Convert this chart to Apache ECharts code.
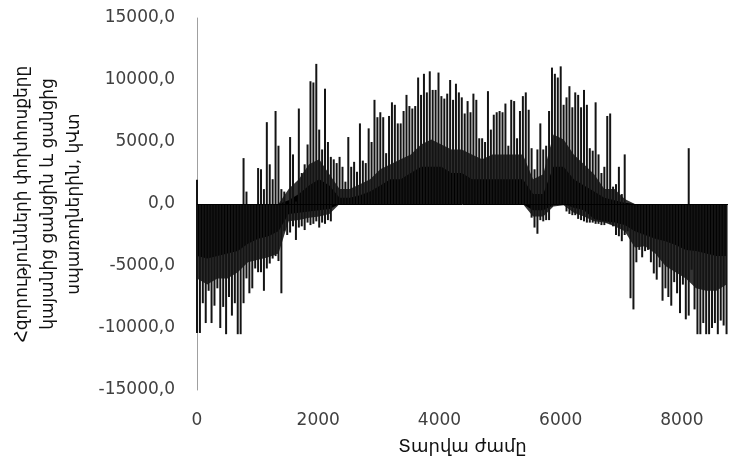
<!DOCTYPE html>
<html><head><meta charset="utf-8">
<script src="https://cdn.jsdelivr.net/npm/echarts/dist/echarts.min.js"></script>
</head><body style="margin:0;background:#fff">
<div id="c" style="width:739px;height:468px"></div>
<script>
// Hour step of the sampled peak values and of the dense-core envelopes
const peakStepHours = 48;
const coreStepHours = 168;

// Highest value in each 48-hour window (kW)
const peakMax = [
  1960,0,0,0,0,0,0,0,0,0,
  0,0,0,0,0,0,3700,1000,0,0,
  0,2900,2800,1200,6600,3200,2000,7500,4700,1200,
  1000,0,5400,4000,200,7700,2500,3200,4800,9900,
  9800,11300,6000,4400,9300,5000,3800,3600,3300,3800,
  3000,1800,5400,3000,3400,2600,6500,3500,3300,6100,
  5000,8400,7000,7400,7000,4100,7100,8200,8000,6500,
  6500,7500,8800,7900,7700,7900,10200,8800,10500,9000,
  10700,9200,9200,10600,8700,8500,8900,10000,8400,9700,
  9000,8600,7300,8300,7400,8900,8400,5300,5300,5000,
  9100,6000,7200,7400,7500,7400,8100,4700,8400,8300,
  5300,7500,8700,9000,7600,4500,2800,4400,6500,4400,
  4700,7500,11000,10500,10200,11100,8000,8600,9500,7800,
  9000,8800,7800,9200,8000,4500,4300,8200,4000,2500,
  3000,7100,7300,1400,1600,3000,800,4000,0,0,
  0,0,0,0,0,0,0,0,0,0,
  0,0,0,0,0,0,0,0,0,4500,
  0,0,0,0,0,0,0,0,0,0,
  0,0,0
];

// Lowest value in each 48-hour window (kW)
const peakMin = [
  -10400,-10400,-8000,-9600,-7000,-9600,-8200,-6800,-10000,-8300,
  -10500,-7500,-9000,-8000,-10500,-10500,-8000,-6000,-7200,-6800,
  -5200,-5500,-5500,-7000,-5200,-4800,-4400,-4200,-4600,-7200,
  -2200,-2500,-2300,-1800,-2900,-1900,-1800,-2100,-1500,-1700,
  -1600,-1400,-1900,-1500,-1600,-1300,-1400,0,0,0,
  0,0,0,0,0,0,0,0,0,0,
  0,0,0,0,0,0,0,0,0,0,
  0,0,0,0,0,0,0,0,0,0,
  0,0,0,0,0,0,0,0,0,0,
  0,0,0,0,0,0,0,0,0,0,
  0,0,0,0,0,0,0,0,0,0,
  0,0,0,0,0,-1100,-1900,-2400,-1300,-1400,
  -1300,-1300,-200,0,0,0,0,-600,-800,-900,
  -900,-1200,-1300,-1400,-1500,-1500,-1500,-1600,-1600,-1700,
  -1700,-1500,-1600,-1800,-2500,-2600,-3000,-2500,-2200,-7600,
  -8500,-4700,-3700,-4300,-3800,-3700,-4700,-5600,-6100,-5100,
  -7800,-6800,-7500,-8200,-6300,-7200,-8800,-6500,-9300,-9000,
  -5300,-8500,-10500,-10500,-9600,-10500,-10500,-10000,-9600,-10500,
  -9400,-9800,-10500
];

// Weekly typical levels reached by most hours (dense dark band)
const midPos = [
  0,0,0,0,0,0,0,0,0,1200,
  2000,3200,3600,2400,1200,1200,1600,2000,2800,3200,
  3600,4000,4800,5200,4800,4400,4400,4000,3600,4000,
  4000,4000,4000,2000,2400,5600,5200,4000,3200,2400,
  1200,1200,400,0,0,0,0,0,0,0,
  0,0,0
];
const midNeg = [
  -6000,-6500,-6000,-6000,-5500,-4700,-4500,-4300,-4000,-1400,
  -1300,-1100,-1000,-800,0,0,0,0,0,0,
  0,0,0,0,0,0,0,0,0,0,
  0,0,0,-1000,-1000,-200,-100,-700,-1000,-1400,
  -1500,-1800,-2200,-3500,-3400,-4000,-5000,-5500,-6000,-6800,
  -7000,-7000,-6500
];

// Weekly level reached by every hour (solid black core)
const corePos = [
  0,0,0,0,0,0,0,0,0,300,
  800,1500,2000,1500,500,500,700,1000,1500,2000,
  2000,2500,3000,3000,3000,2500,2500,2000,2000,2000,
  2000,2000,2000,800,800,3000,3000,2000,1500,1000,
  500,300,100,0,0,0,0,0,0,0,
  0,0,0
];
const coreNeg = [
  -4200,-4400,-4200,-4000,-3800,-3200,-2800,-2600,-2200,-800,
  -700,-600,-500,-400,0,0,0,0,0,0,
  0,0,0,0,0,0,0,0,0,0,
  0,0,0,-500,-500,-100,0,-300,-500,-1200,
  -1400,-1500,-1700,-2200,-2500,-2800,-3000,-3300,-3700,-3800,
  -4000,-4200,-4200
];

const xTicks = [0, 2000, 4000, 6000, 8000];
const yTitleLines = ['Հզորությունների փոխհոսքերը', 'կայանից ցանցին և ցանցից', 'սպառողներին, կՎտ'];
const xTitle = 'Տարվա ժամը';

const toPairs = (arr, step) => arr.map((v, i) => [i * step, v]);

const areaSeries = (arr, color) => ({
  type: 'line', data: toPairs(arr, coreStepHours), symbol: 'none', showSymbol: false,
  lineStyle: { width: 0 }, areaStyle: { color: color, opacity: 1 }, silent: true, z: 1
});

const chart = echarts.init(document.getElementById('c'), null, { renderer: 'canvas' });
chart.setOption({
  animation: false,
  backgroundColor: '#fff',
  grid: { left: 197, right: 11, top: 18, bottom: 78 },
  xAxis: {
    type: 'value', min: 0, max: 8760, interval: 2000,
    axisLine: { show: false, onZero: false }, axisTick: { show: false }, splitLine: { show: false },
    axisLabel: {
      margin: 22, fontSize: 17, color: '#404040', fontFamily: 'DejaVu Sans',
      formatter: v => (xTicks.indexOf(v) >= 0 ? String(v) : '')
    },
    name: xTitle, nameLocation: 'middle', nameGap: 48,
    nameTextStyle: { fontSize: 18, color: '#111', fontFamily: 'DejaVu Sans' }
  },
  yAxis: {
    type: 'value', min: -15000, max: 15000, interval: 5000,
    axisLine: { show: true, lineStyle: { color: '#a0a0a0', width: 1 } },
    axisTick: { show: false }, splitLine: { show: false },
    axisLabel: {
      margin: 22, fontSize: 17, color: '#404040', fontFamily: 'DejaVu Sans',
      formatter: v => v.toFixed(1).replace('.', ',')
    },
    name: yTitleLines.join('\n'), nameLocation: 'middle', nameGap: 109,
    nameTextStyle: { fontSize: 17, lineHeight: 26, color: '#111', fontFamily: 'DejaVu Sans' }
  },
  series: [
    areaSeries(midPos, '#333'),
    areaSeries(midNeg, '#333'),
    areaSeries(corePos, '#000'),
    areaSeries(coreNeg, '#000'),
    {
      type: 'bar', data: toPairs(peakMax, peakStepHours), barWidth: 2, barGap: '-100%',
      itemStyle: { color: '#141414' }, silent: true, z: 2
    },
    {
      type: 'bar', data: toPairs(peakMin, peakStepHours), barWidth: 2, barGap: '-100%',
      itemStyle: { color: '#141414' }, silent: true, z: 2,
      markLine: {
        silent: true, symbol: 'none', label: { show: false },
        lineStyle: { color: '#000', width: 1, type: 'solid' },
        data: [{ yAxis: 0 }]
      }
    }
  ]
});
</script>
</body></html>
